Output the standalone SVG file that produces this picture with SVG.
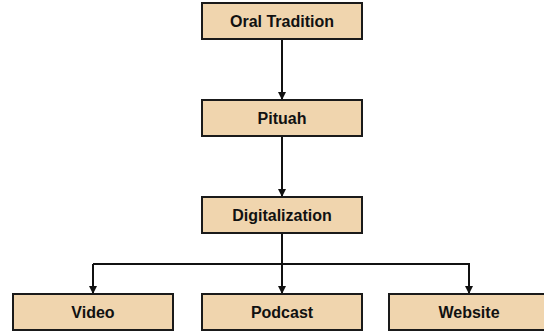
<svg xmlns="http://www.w3.org/2000/svg" width="544" height="333" viewBox="0 0 544 333">
<style>
.box{fill:#f0d5ae;stroke:#1a1a1a;stroke-width:2}
.lbl{font-family:"Liberation Sans",Arial,sans-serif;font-weight:bold;font-size:16px;fill:#111;text-anchor:middle;dominant-baseline:central}
.edge{fill:none;stroke:#111;stroke-width:2}
</style>
<defs>
<marker id="arr" viewBox="0 0 10 10" refX="10" refY="5" markerWidth="4" markerHeight="4" orient="auto" markerUnits="strokeWidth">
<path d="M0,0 L10,5 L0,10 z" fill="#111"/>
</marker>
</defs>
<rect width="544" height="333" fill="#fff"/>
<g id="connectors">
<path class="edge" d="M282,39 V100" marker-end="url(#arr)"/>
<path class="edge" d="M282,136 V197" marker-end="url(#arr)"/>
<path class="edge" d="M282,233 V294" marker-end="url(#arr)"/>
<path class="edge" d="M93,264 H469 V294" marker-end="url(#arr)"/>
<path class="edge" d="M93,264 V294" marker-end="url(#arr)"/>
</g>
<g id="oral"><rect class="box" x="202" y="3" width="160" height="36"/><text class="lbl" x="282" y="21">Oral Tradition</text></g>
<g id="pituah"><rect class="box" x="202" y="100" width="160" height="36"/><text class="lbl" x="282" y="118">Pituah</text></g>
<g id="digital"><rect class="box" x="202" y="197" width="160" height="36"/><text class="lbl" x="282" y="215">Digitalization</text></g>
<g id="video"><rect class="box" x="13" y="294" width="160" height="36"/><text class="lbl" x="93" y="312">Video</text></g>
<g id="podcast"><rect class="box" x="202" y="294" width="160" height="36"/><text class="lbl" x="282" y="312">Podcast</text></g>
<g id="website"><rect class="box" x="389" y="294" width="160" height="36"/><text class="lbl" x="469" y="312">Website</text></g>
</svg>
